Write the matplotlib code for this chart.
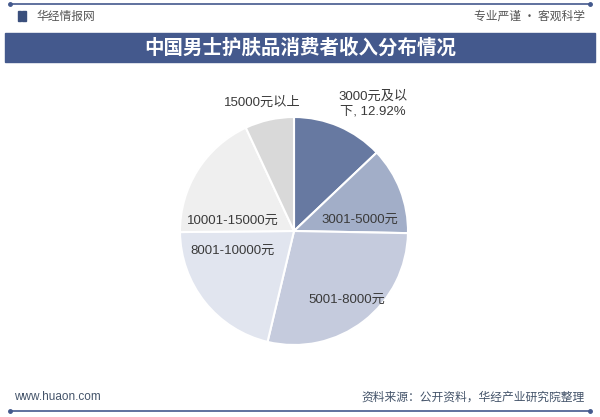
import matplotlib.pyplot as plt
from matplotlib.patches import Rectangle

plt.rcParams['font.family'] = ['Noto Sans CJK SC', 'DejaVu Sans']

# income groups and their shares (%), clockwise from 12 o'clock
groups = ['3000元及以下', '3001-5000元', '5001-8000元', '8001-10000元',
          '10001-15000元', '15000元以上']
shares = [12.92, 12.38, 28.43, 21.12, 18.20, 6.95]
colors = ['#6779a1', '#a2aec8', '#c5cbdd', '#e1e5ef', '#efefef', '#d9d9d9']
label_texts = ['3000元及以\n下, 12.92%', '3001-5000元', '5001-8000元',
               '8001-10000元', '10001-15000元', '15000元以上']

W, H = 600, 417
fig = plt.figure(figsize=(W / 100, H / 100), dpi=100)
ax = fig.add_axes([0, 0, 1, 1])
ax.set_xlim(0, W)
ax.set_ylim(H, 0)
ax.axis('off')
ax.set_zorder(2)

navy = '#44598d'
label_font = ['Liberation Sans', 'Noto Sans CJK SC']

# header
ax.plot([10, 590], [4, 4], color=navy, lw=1.2)
ax.plot([10, 590], [4, 4], 'o', color=navy, ms=2.5)
ax.add_patch(Rectangle((18, 11), 3, 10, color='#3a4f7c'))
ax.add_patch(Rectangle((22, 11), 4, 10, color='#3a4f7c'))
ax.text(36, 16, '华经情报网', fontsize=8.5, color='#555555', va='center')
ax.text(585, 16, '专业严谨 • 客观科学', fontsize=8.5, color='#555555',
        va='center', ha='right')
ax.add_patch(Rectangle((5, 33), 590, 29, color=navy))
ax.text(300, 47.5, '中国男士护肤品消费者收入分布情况', fontsize=14,
        fontweight='bold', color='white', ha='center', va='center')

# pie (second axes, so the library handles the wedges)
cx, cy, r = 294, 231, 114
pax = fig.add_axes([(cx - r) / W, (H - cy - r) / H, 2 * r / W, 2 * r / H])
pax.set_zorder(1)
wedges, _ = pax.pie(shares, colors=colors, startangle=90, counterclock=False,
                    wedgeprops=dict(edgecolor='white', linewidth=1.5))
pax.set_xlim(-1, 1)
pax.set_ylim(-1, 1)
pax.set_aspect('equal')

# label positions in pixels
label_pos = [(373, 104), (360, 220), (347, 300), (233, 251), (233, 221), (262, 103)]
for txt, (x, y) in zip(label_texts, label_pos):
    ax.text(x, y, txt, fontsize=9.5, color='#3a3a3a', ha='center', va='center',
            linespacing=1.25, family=label_font)

# footer
ax.text(14, 397, 'www.huaon.com', fontsize=8.5, color='#44546a', va='center',
        family=label_font)
ax.text(585, 397, '资料来源：公开资料，华经产业研究院整理', fontsize=8.5,
        color='#44546a', va='center', ha='right')
ax.plot([10, 590], [411, 411], color=navy, lw=1.2)
ax.plot([10, 590], [411, 411], 'o', color=navy, ms=2.5)

fig.savefig('out.png', dpi=100)
